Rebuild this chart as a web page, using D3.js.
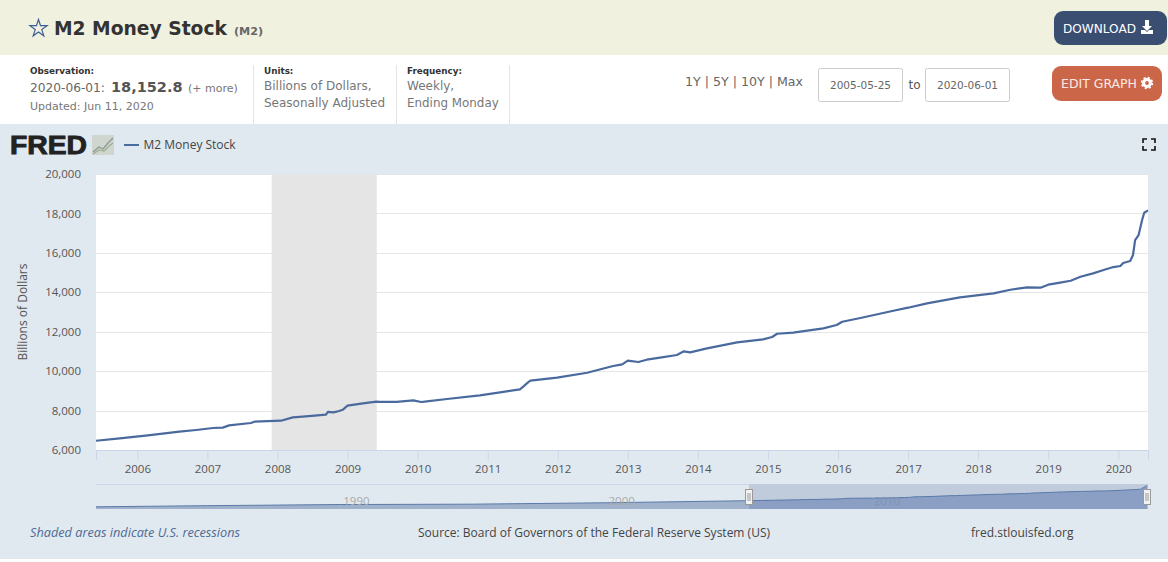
<!DOCTYPE html>
<html><head><meta charset="utf-8">
<script src="https://cdn.jsdelivr.net/npm/d3@7/dist/d3.min.js"></script>
<style>html,body{margin:0;padding:0;background:#fff}svg{display:block}</style>
</head><body><svg id="c" width="1168" height="562"></svg>
<script>
// ---- data ----
const years = [2005.41,2005.75,2005.88,2006.12,2006.36,2006.60,2006.84,2007.08,2007.22,2007.31,2007.62,2007.67,2008.05,2008.22,2008.45,2008.69,2008.72,2008.80,2008.88,2008.93,2009.00,2009.22,2009.41,2009.46,2009.70,2009.94,2010.05,2010.10,2010.42,2010.89,2011.27,2011.46,2011.52,2011.58,2011.61,2011.99,2012.42,2012.79,2012.92,2013.00,2013.15,2013.27,2013.46,2013.70,2013.80,2013.89,2014.13,2014.56,2014.93,2015.06,2015.13,2015.36,2015.79,2015.98,2016.06,2016.32,2016.79,2017.00,2017.27,2017.74,2017.98,2018.22,2018.46,2018.70,2018.89,2019.00,2019.17,2019.32,2019.46,2019.64,2019.79,2019.93,2020.03,2020.07,2020.17,2020.21,2020.24,2020.29,2020.34,2020.37,2020.424];
const m2Values = [6470,6590,6640,6727,6827,6930,7014,7116,7135,7250,7369,7437,7487,7657,7720,7790,7930,7910,7978,8040,8248,8367,8450,8440,8440,8520,8434,8450,8587,8773,8975,9076,9250,9440,9516,9667,9920,10260,10345,10530,10463,10580,10683,10818,11005,10955,11158,11462,11613,11731,11898,11950,12172,12340,12507,12695,13065,13218,13440,13743,13846,13945,14130,14250,14233,14385,14487,14587,14790,14960,15130,15280,15333,15485,15586,15890,16650,16905,17665,18035,18152.8];
const historyYears = [1980.79,1985,1990,1995,2000];
const historyValues = [1600,2500,3400,3700,4800];
const recessionYears = [2007.917,2009.417];
const yTicks = [6000,8000,10000,12000,14000,16000,18000,20000];
const xTicks = d3.range(2006,2021);
const navTicks = [1990,2000,2010];
const selectedRange = [2005.41,2020.424];
const navRange = [1980.79,2020.45];

// ---- helpers ----
const svg = d3.select("#c");
const OS = "'Open Sans',sans-serif", DJ = "'DejaVu Sans',sans-serif";
function txt(x,y,s,size,fill,o={}){
  const t = svg.append("text").attr("x",x).attr("y",y).attr("font-size",size).attr("fill",fill)
    .attr("font-family",o.font||DJ).text(s);
  if(o.weight) t.attr("font-weight",o.weight);
  if(o.anchor) t.attr("text-anchor",o.anchor);
  if(o.style) t.attr("font-style",o.style);
  if(o.len) t.attr("textLength",o.len).attr("lengthAdjust","spacingAndGlyphs");
  return t;
}
function rect(x,y,w,h,fill,o={}){
  const r = svg.append("rect").attr("x",x).attr("y",y).attr("width",w).attr("height",h).attr("fill",fill);
  if(o.rx) r.attr("rx",o.rx);
  if(o.stroke) r.attr("stroke",o.stroke);
  return r;
}

// ---- page panels ----
rect(0,0,1168,55,"#f1f1df");
rect(0,124,1168,435,"#e1e9f0");
svg.append("path").attr("d",d3.symbol(d3.symbolStar,92)()).attr("transform","translate(38.5,28.5)")
  .attr("fill","none").attr("stroke","#3d5f96").attr("stroke-width",1.2);
txt(54,35,"M2 Money Stock",18.7,"#333",{weight:"bold"});
txt(234,35,"(M2)",11.2,"#666",{weight:"bold"});
rect(1054,11,113,34,"#3a4e72",{rx:9});
txt(1063,33,"DOWNLOAD",11.5,"#fff",{len:73});
svg.append("path").attr("d","M1145 20h4v6h3l-5 5-5-5h3zM1141 30h4l2 2 2-2h4v4h-12z").attr("fill","#fff");

// info strip
[253,396,509].forEach(x=>svg.append("line").attr("x1",x+.5).attr("x2",x+.5).attr("y1",65).attr("y2",124).attr("stroke","#e4e4e4"));
txt(30,74,"Observation:",8.8,"#333",{weight:"bold"});
txt(30,92,"2020-06-01:",12.2,"#666");
txt(111,92,"18,152.8",14.5,"#555",{weight:"bold"});
txt(188,92,"(+ more)",11,"#777");
txt(30,110,"Updated: Jun 11, 2020",11,"#777");
txt(264,74,"Units:",8.8,"#333",{weight:"bold"});
txt(264,90,"Billions of Dollars,",12,"#777");
txt(264,107,"Seasonally Adjusted",12,"#777");
txt(407,74,"Frequency:",8.8,"#333",{weight:"bold"});
txt(407,90,"Weekly,",12,"#777");
txt(407,107,"Ending Monday",11.9,"#777");
txt(685,86,"1Y | 5Y | 10Y | Max",12,"#666",{len:118});
rect(818.5,68.5,84,33,"#fff",{rx:2,stroke:"#ccc"});
txt(860.5,89,"2005-05-25",10.5,"#666",{anchor:"middle"});
txt(908.5,89,"to",12,"#555");
rect(925.5,68.5,84,33,"#fff",{rx:2,stroke:"#ccc"});
txt(967.5,89,"2020-06-01",10.5,"#666",{anchor:"middle"});
rect(1052,66,110,35,"#cc6649",{rx:9});
txt(1061,88,"EDIT GRAPH",11.5,"#fbe9e3",{len:76});
svg.append("circle").attr("cx",1147).attr("cy",83).attr("r",3.4).attr("fill","none").attr("stroke","#fff").attr("stroke-width",3);
svg.append("circle").attr("cx",1147).attr("cy",83).attr("r",5.4).attr("fill","none").attr("stroke","#fff").attr("stroke-width",1.6).attr("stroke-dasharray","2.2 2.04");

// logo + legend
txt(10,153.5,"FRED",26,"#222",{font:"'Liberation Sans',sans-serif",weight:"bold",len:77}).attr("stroke","#222").attr("stroke-width",.9);
rect(92,135,22,20,"#cfd6d0");
svg.append("path").attr("d","M93 152l6-5 4 2 5-6 5-5").attr("fill","none").attr("stroke","#8a9a8a").attr("stroke-width",1.2);
svg.append("path").attr("d","M93 154l6-4 5 1 5-5 4-3").attr("fill","none").attr("stroke","#a0aa90").attr("stroke-width",1.2);
svg.append("line").attr("x1",124).attr("x2",139).attr("y1",145).attr("y2",145).attr("stroke","#4a6d9f").attr("stroke-width",2);
txt(143.5,149,"M2 Money Stock",12,"#444",{font:OS});
svg.append("path").attr("d","M1143 143v-4h4M1151 139h4v4M1155 146v4h-4M1147 150h-4v-4").attr("fill","none").attr("stroke","#111").attr("stroke-width",1.6);

// ---- main chart ----
const L=96,R=1148,T=174,B=450;
const x = d3.scaleLinear().domain(selectedRange).range([L,R]);
const y = d3.scaleLinear().domain([6000,20000]).range([B,T]);
rect(L,T,R-L,B-T,"#fff");
rect(x(recessionYears[0]),T,x(recessionYears[1])-x(recessionYears[0]),B-T,"#e5e5e5");
const g = svg.append("g");
g.selectAll("line.grid").data(yTicks).join("line").attr("class","grid")
  .attr("x1",L).attr("x2",R).attr("y1",d=>Math.round(y(d))+.5).attr("y2",d=>Math.round(y(d))+.5)
  .attr("stroke","#e6e6e6");
const yAxis = svg.append("g").attr("transform",`translate(${L},0)`)
  .call(d3.axisLeft(y).tickValues(yTicks).tickSize(0).tickPadding(15).tickFormat(d3.format(",")));
yAxis.select(".domain").remove();
yAxis.selectAll("text").attr("font-family",OS).attr("font-size",11.5).attr("fill","#555");
const xAxis = svg.append("g").attr("transform",`translate(0,${B})`)
  .call(d3.axisBottom(x).tickValues(xTicks).tickSize(10).tickPadding(3).tickFormat(d3.format("d")));
xAxis.select(".domain").attr("stroke","#ccd6eb");
xAxis.selectAll("line").attr("stroke","#ccd6eb");
xAxis.selectAll("text").attr("font-family",OS).attr("font-size",11.5).attr("fill","#555").attr("dy","0.9em");
txt(0,0,"Billions of Dollars",12,"#555",{font:OS,anchor:"middle"}).attr("transform","translate(27,312) rotate(-90)");

const rows = years.map((yr,i)=>({yr,v:m2Values[i]}));
svg.append("path").datum(rows).attr("fill","none").attr("stroke","#4a6a9e").attr("stroke-width",2.2)
  .attr("stroke-linejoin","round").attr("d",d3.line().x(d=>x(d.yr)).y(d=>y(d.v)));

// ---- navigator ----
const nT=484,nB=509;
const nx = d3.scaleLinear().domain(navRange).range([L,R]);
const ny = d3.scaleLinear().domain([1600,18152.8]).range([506.8,486]);
const navRows = historyYears.map((yr,i)=>({yr,v:historyValues[i]})).concat(rows);
const selX = nx(selectedRange[0]);
rect(selX,nT,R-selX,nB-nT,"#c0cbdc");
svg.append("line").attr("x1",L).attr("x2",selX).attr("y1",nT+.5).attr("y2",nT+.5).attr("stroke","#ccd6eb");
const area = d3.area().x(d=>nx(d.yr)).y0(nB).y1(d=>ny(d.v));
const nline = d3.line().x(d=>nx(d.yr)).y(d=>ny(d.v));
const before = navRows.filter(d=>d.yr<=selectedRange[0]+.01), after = navRows.filter(d=>d.yr>=selectedRange[0]);
svg.append("path").datum(before).attr("fill","#a0b1cc").attr("d",area);
svg.append("path").datum(after).attr("fill","#8a9fc3").attr("d",area);
svg.append("path").datum(navRows).attr("fill","none").attr("stroke","#5a7aa8").attr("d",nline);
navTicks.forEach(t=>{
  const tx = nx(t);
  txt(tx+3,505,t,11.5,t===2010?"#8094b4":"#a9a9a9",{font:OS});
});
selectedRange.forEach(v=>{
  const hx=Math.round(nx(v));
  rect(hx-3.5,489.5,7,15,"#f2f2f2",{stroke:"#999"});
  svg.append("path").attr("d",`M${hx-1} 493v8M${hx+1} 493v8`).attr("stroke","#999");
});

// ---- footer ----
txt(30,537,"Shaded areas indicate U.S. recessions",12.4,"#4d6a94",{font:OS,style:"italic",len:210});
txt(418,537,"Source: Board of Governors of the Federal Reserve System (US)",12,"#444",{font:OS});
txt(971,537,"fred.stlouisfed.org",12,"#444",{font:OS});
</script></body></html>
